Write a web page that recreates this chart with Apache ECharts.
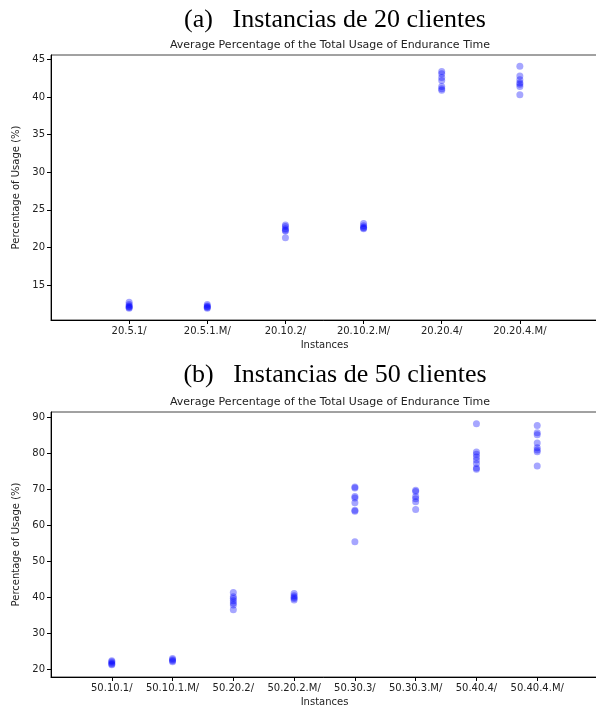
<!DOCTYPE html>
<html>
<head>
<meta charset="utf-8">
<script src="https://cdn.jsdelivr.net/npm/echarts@6/dist/echarts.min.js"></script>
<style>
    html, body { margin: 0; padding: 0; background: #fff; }
    #chart { width: 596px; height: 708px; }
</style>
</head>
<body>
<div id="chart"></div>
<script>
// (a) 20 clientes
const cats20 = ['20.5.1/', '20.5.1.M/', '20.10.2/', '20.10.2.M/', '20.20.4/', '20.20.4.M/'];
const values20 = [
    [12.7, 12.4, 12.2, 12.1, 12.0, 11.9],
    [12.4, 12.2, 12.1, 12.0, 11.9],
    [23.0, 22.8, 22.5, 22.3, 22.2, 21.3],
    [23.2, 22.9, 22.7, 22.6, 22.5],
    [43.4, 43.1, 42.6, 42.2, 41.4, 41.1, 40.9],
    [44.1, 42.8, 42.3, 41.9, 41.7, 41.4, 40.3]
];
const yTicks20 = [15, 20, 25, 30, 35, 40, 45];

// (b) 50 clientes
const cats50 = ['50.10.1/', '50.10.1.M/', '50.20.2/', '50.20.2.M/', '50.30.3/', '50.30.3.M/', '50.40.4/', '50.40.4.M/'];
const values50 = [
    [22.3, 22.0, 21.7, 21.4, 21.2],
    [22.9, 22.6, 22.3, 22.0],
    [41.3, 40.1, 39.6, 39.0, 38.4, 37.8, 36.5],
    [41.0, 40.4, 40.0, 39.6, 39.2],
    [70.7, 70.4, 68.0, 67.6, 66.3, 64.2, 63.9, 55.4],
    [69.8, 69.4, 68.0, 67.4, 66.6, 64.4],
    [88.3, 80.4, 79.8, 79.0, 78.2, 77.2, 76.0, 75.6],
    [87.8, 85.8, 85.2, 82.9, 81.6, 81.0, 80.5, 76.5]
];
const yTicks50 = [20, 30, 40, 50, 60, 70, 80, 90];

const toPoints = (vals) => {
    let pts = [];
    vals.forEach((arr, i) => arr.forEach(v => pts.push([i, v])));
    return pts;
};

const txt = '#222';
const xAxisFor = (cats, gi) => ({
    type: 'value',
    gridIndex: gi,
    min: -1,
    max: cats.length,
    name: 'Instances',
    nameLocation: 'middle',
    nameGap: 20,
    nameTextStyle: { color: txt, fontSize: 10, fontFamily: 'DejaVu Sans' },
    axisLine: { show: true, onZero: false, lineStyle: { color: '#000', width: 1 } },
    axisTick: { show: true, length: 4, lineStyle: { color: '#000' }, customValues: cats.map((c, i) => i) },
    axisLabel: {
        color: txt, fontSize: 10, fontFamily: 'DejaVu Sans', margin: 6,
        customValues: cats.map((c, i) => i),
        formatter: v => cats[v] || ''
    },
    splitLine: { show: false }
});
const yAxisFor = (ticks, min, max, gi) => ({
    type: 'value',
    gridIndex: gi,
    min: min,
    max: max,
    name: 'Percentage of Usage (%)',
    nameLocation: 'middle',
    nameGap: 21,
    nameTextStyle: { color: txt, fontSize: 10, fontFamily: 'DejaVu Sans' },
    axisLine: { show: true, onZero: false, lineStyle: { color: '#000', width: 1 } },
    axisTick: { show: true, length: 4, lineStyle: { color: '#000' }, customValues: ticks },
    axisLabel: { color: txt, fontSize: 10, fontFamily: 'DejaVu Sans', margin: 6, customValues: ticks },
    splitLine: { show: false }
});

const chart = echarts.init(document.getElementById('chart'));
chart.setOption({
    animation: false,
    backgroundColor: '#fff',
    title: [
        { text: '(a)   Instancias de 20 clientes', left: 330, textAlign: 'center', top: 2,
          textStyle: { fontFamily: 'Liberation Serif', fontSize: 26, fontWeight: 'normal', color: '#000' } },
        { text: 'Average Percentage of the Total Usage of Endurance Time', left: 325, textAlign: 'center', top: 35,
          textStyle: { fontFamily: 'DejaVu Sans', fontSize: 11, fontWeight: 'normal', color: txt } },
        { text: '(b)   Instancias de 50 clientes', left: 330, textAlign: 'center', top: 357,
          textStyle: { fontFamily: 'Liberation Serif', fontSize: 26, fontWeight: 'normal', color: '#000' } },
        { text: 'Average Percentage of the Total Usage of Endurance Time', left: 325, textAlign: 'center', top: 392,
          textStyle: { fontFamily: 'DejaVu Sans', fontSize: 11, fontWeight: 'normal', color: txt } }
    ],
    grid: [
        { left: 51, top: 55, width: 547, height: 265, outerBoundsMode: 'none', show: true, borderColor: '#444', borderWidth: 1, backgroundColor: 'transparent' },
        { left: 51, top: 412, width: 547, height: 265, outerBoundsMode: 'none', show: true, borderColor: '#444', borderWidth: 1, backgroundColor: 'transparent' }
    ],
    xAxis: [xAxisFor(cats20, 0), xAxisFor(cats50, 1)],
    yAxis: [yAxisFor(yTicks20, 10.35, 45.6, 0), yAxisFor(yTicks50, 17.77, 91.56, 1)],
    series: [
        {
            type: 'scatter', xAxisIndex: 0, yAxisIndex: 0,
            symbolSize: 7,
            itemStyle: { color: '#0000ff', opacity: 0.35 },
            data: toPoints(values20)
        },
        {
            type: 'scatter', xAxisIndex: 1, yAxisIndex: 1,
            symbolSize: 7,
            itemStyle: { color: '#0000ff', opacity: 0.35 },
            data: toPoints(values50)
        }
    ]
});
</script>
</body>
</html>
